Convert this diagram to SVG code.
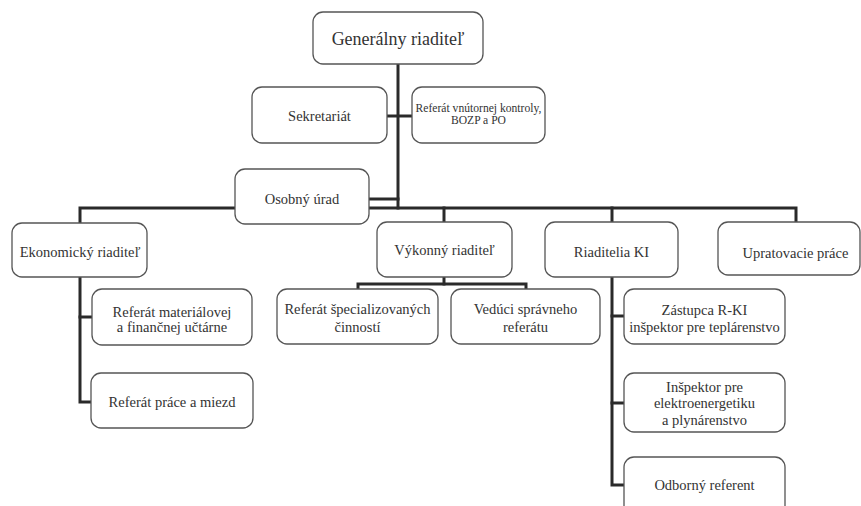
<svg xmlns="http://www.w3.org/2000/svg" width="861" height="506" viewBox="0 0 861 506">
<style>
.bg{fill:#ffffff}
.box{fill:#ffffff;stroke:#555555;stroke-width:1.3}
.ln{fill:none;stroke:#2a2a2a;stroke-width:3;stroke-linejoin:miter;stroke-linecap:square}
text{font-family:'Liberation Serif','Times New Roman',serif;fill:#333333;text-anchor:middle}
.t{font-size:14.5px}
.s{font-size:11.6px}
.g{font-size:18px}
</style>
<rect class="bg" x="0" y="0" width="861" height="506"/>
<g id="connectors">
<path class="ln" d="M398,64 V208"/>
<path class="ln" d="M387,116 H412"/>
<path class="ln" d="M369,199 H398"/>
<path class="ln" d="M80,223 V208 H796 V222"/>
<path class="ln" d="M444,208 V222"/>
<path class="ln" d="M612,208 V222"/>
<path class="ln" d="M80,277 V402 H91"/>
<path class="ln" d="M80,317 H92"/>
<path class="ln" d="M444,277 V284"/>
<path class="ln" d="M358,289 V284 H526 V289"/>
<path class="ln" d="M612,277 V485 H624"/>
<path class="ln" d="M612,316 H624"/>
<path class="ln" d="M612,403 H624"/>
</g>
<g id="generalny">
<rect class="box" x="313" y="12" width="170" height="52" rx="10"/>
<text class="g" x="398" y="45">Generálny riaditeľ</text>
</g>
<g id="sekretariat">
<rect class="box" x="252" y="87" width="135" height="56" rx="10"/>
<text class="t" x="319.5" y="121">Sekretariát</text>
</g>
<g id="referat-kontroly">
<rect class="box" x="412" y="87" width="133" height="56" rx="10"/>
<text class="s" x="478.5" y="112">Referát vnútornej kontroly,</text>
<text class="s" x="478.5" y="124">BOZP a PO</text>
</g>
<g id="osobny">
<rect class="box" x="235" y="169" width="134" height="55" rx="10"/>
<text class="t" x="302" y="204">Osobný úrad</text>
</g>
<g id="ekonomicky">
<rect class="box" x="12" y="223" width="135" height="54" rx="10"/>
<text class="t" x="80" y="257">Ekonomický riaditeľ</text>
</g>
<g id="vykonny">
<rect class="box" x="377" y="222" width="135" height="55" rx="10"/>
<text class="t" x="444.5" y="255">Výkonný riaditeľ</text>
</g>
<g id="riaditelia-ki">
<rect class="box" x="545" y="222" width="133" height="55" rx="10"/>
<text class="t" x="611.5" y="257">Riaditelia KI</text>
</g>
<g id="upratovacie">
<rect class="box" x="718" y="222" width="142" height="53" rx="10"/>
<text class="t" x="795.5" y="258">Upratovacie práce</text>
</g>
<g id="ref-materialovej">
<rect class="box" x="92" y="289" width="160" height="56" rx="10"/>
<text class="t" x="172" y="317">Referát materiálovej</text>
<text class="t" x="172" y="332">a finančnej učtárne</text>
</g>
<g id="ref-prace">
<rect class="box" x="91" y="373" width="162" height="55" rx="10"/>
<text class="t" x="172" y="407">Referát práce a miezd</text>
</g>
<g id="ref-specializovanych">
<rect class="box" x="277" y="289" width="161" height="55" rx="10"/>
<text class="t" x="357.5" y="314">Referát špecializovaných</text>
<text class="t" x="357.5" y="332">činností</text>
</g>
<g id="veduci">
<rect class="box" x="451" y="289" width="149" height="55" rx="10"/>
<text class="t" x="525.5" y="314">Vedúci správneho</text>
<text class="t" x="525.5" y="332">referátu</text>
</g>
<g id="zastupca">
<rect class="box" x="624" y="289" width="161" height="55" rx="10"/>
<text class="t" x="704.5" y="315">Zástupca R-KI</text>
<text class="t" x="704.5" y="332">inšpektor pre teplárenstvo</text>
</g>
<g id="inspektor">
<rect class="box" x="624" y="373" width="161" height="59" rx="10"/>
<text class="t" x="704.5" y="392">Inšpektor  pre</text>
<text class="t" x="704.5" y="408">elektroenergetiku</text>
<text class="t" x="704.5" y="425">a plynárenstvo</text>
</g>
<g id="odborny">
<rect class="box" x="624" y="457" width="161" height="60" rx="10"/>
<text class="t" x="704.5" y="490">Odborný referent</text>
</g>
</svg>
